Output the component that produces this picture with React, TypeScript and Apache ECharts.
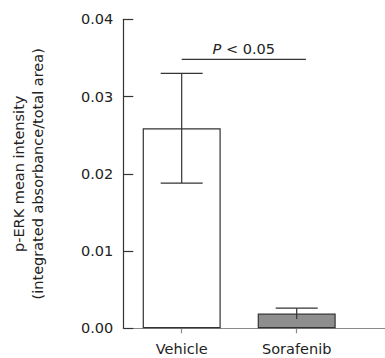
import React, { useEffect, useRef } from "react";
import * as echarts from "echarts";

const categories = ["Vehicle", "Sorafenib"];
const means = [0.0259, 0.0019];
const errUp = [0.0071, 0.0007];
const errDown = [0.0071, 0.0007];
const lowerCap = [true, false];
const barFills = ["#ffffff", "#8e8e8e"];
const yTicks = [0, 0.01, 0.02, 0.03, 0.04];
const sigFrom = 1;
const sigTo = 2.08;
const sigLevel = 0.0348;
const sigLabel = "P < 0.05";

const FONT = "DejaVu Sans";
const TEXT = "#222";

export default function App() {
  const ref = useRef<HTMLDivElement>(null);
  useEffect(() => {
    if (!ref.current) return;
    const chart = echarts.init(ref.current, null, { renderer: "svg" });
    const xs = categories.map((_, i) => i + 1);
    chart.setOption({
      animation: false,
      grid: { left: 123.3, top: 19.3, right: 0, bottom: 29.7, containLabel: false },
      xAxis: {
        type: "value",
        min: 0.4922,
        max: 2.7679,
        splitLine: { show: false },
        axisLine: { show: true, lineStyle: { color: "#8a8a8a", width: 1.2 } },
        axisTick: { show: true, customValues: xs, length: 5, lineStyle: { color: "#8a8a8a", width: 1.2 } },
        axisLabel: {
          customValues: xs,
          formatter: (v: number) => categories[Math.round(v) - 1] ?? "",
          color: TEXT,
          fontFamily: FONT,
          fontSize: 14.5,
          margin: 13,
        },
      },
      yAxis: {
        type: "value",
        min: 0,
        max: 0.04,
        interval: 0.01,
        splitLine: { show: false },
        axisLine: { show: true, lineStyle: { color: "#333", width: 1.2 } },
        axisTick: { show: true, inside: true, length: 10, lineStyle: { color: "#333", width: 1.2 } },
        axisLabel: {
          formatter: (v: number) => (yTicks.find((t) => Math.abs(t - v) < 1e-9) ?? v).toFixed(2),
          color: TEXT,
          fontFamily: FONT,
          fontSize: 14.5,
          margin: 10,
        },
        name: "p-ERK mean intensity\n(integrated absorbance/total area)",
        nameLocation: "middle",
        nameRotate: 90,
        nameGap: 76,
        nameTextStyle: { color: TEXT, fontFamily: FONT, fontSize: 14.5, lineHeight: 19 },
      },
      series: [
        {
          type: "bar",
          barWidth: 78,
          data: means.map((m, i) => ({
            value: [xs[i], m],
            itemStyle: { color: barFills[i], borderColor: "#333", borderWidth: 1.2 },
          })),
          z: 2,
        },
        {
          type: "custom",
          z: 5,
          data: means.map((m, i) => [xs[i], m + errUp[i], m - errDown[i], lowerCap[i] ? 1 : 0]),
          renderItem: (params: any, api: any) => {
            const x = api.value(0);
            const top = api.coord([x, api.value(1)]);
            const bot = api.coord([x, api.value(2)]);
            const half = 21;
            const style = { stroke: "#333", lineWidth: 1.2 };
            const children: any[] = [
              { type: "line", shape: { x1: top[0], y1: top[1], x2: bot[0], y2: bot[1] }, style },
              { type: "line", shape: { x1: top[0] - half, y1: top[1], x2: top[0] + half, y2: top[1] }, style },
            ];
            if (api.value(3) === 1) {
              children.push({ type: "line", shape: { x1: bot[0] - half, y1: bot[1], x2: bot[0] + half, y2: bot[1] }, style });
            }
            return { type: "group", children };
          },
        },
        {
          type: "custom",
          z: 5,
          data: [[sigFrom, sigTo, sigLevel]],
          renderItem: (params: any, api: any) => {
            const a = api.coord([api.value(0), api.value(2)]);
            const b = api.coord([api.value(1), api.value(2)]);
            return {
              type: "group",
              children: [
                { type: "line", shape: { x1: a[0], y1: a[1], x2: b[0], y2: b[1] }, style: { stroke: "#333", lineWidth: 1.2 } },
                {
                  type: "text",
                  x: (a[0] + b[0]) / 2,
                  y: a[1] - 3,
                  style: {
                    text: "{i|P}" + sigLabel.slice(1),
                    rich: { i: { fontStyle: "italic", fontFamily: FONT, fontSize: 14.5, fill: TEXT } },
                    fill: TEXT,
                    fontFamily: FONT,
                    fontSize: 14.5,
                    align: "center",
                    verticalAlign: "bottom",
                  },
                },
              ],
            };
          },
        },
      ],
    });
    return () => chart.dispose();
  }, []);
  return <div ref={ref} style={{ width: 385, height: 358, position: "absolute", left: 0, top: 0 }} />;
}
